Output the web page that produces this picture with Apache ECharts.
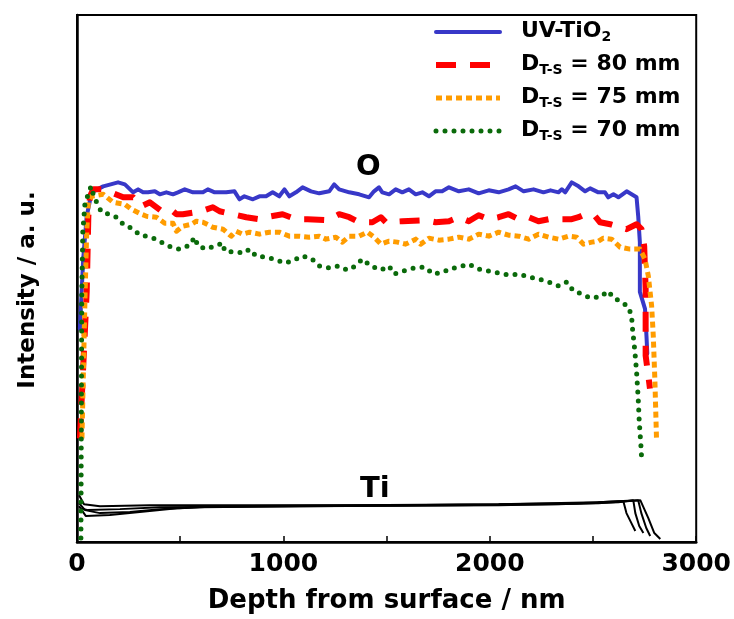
<!DOCTYPE html>
<html>
<head>
<meta charset="utf-8">
<script src="https://cdn.jsdelivr.net/npm/echarts@6/dist/echarts.min.js"></script>
<style>html,body{margin:0;padding:0;background:#fff}#c{width:734px;height:619px}</style>
</head>
<body>
<div id="c"></div>
<script>
// ---- data (depth in nm, intensity in arbitrary units) ----
const xTickLabels = [0, 1000, 2000, 3000];
const seriesNames = ['UV-TiO2', 'DT-S = 80 mm', 'DT-S = 75 mm', 'DT-S = 70 mm'];

const blueDepth = [14,30,47,71,127,199,232,272,296,320,344,377,401,433,465,489,522,562,610,634,667,723,763,787,811,852,884,916,948,980,1005,1029,1061,1093,1134,1174,1222,1246,1270,1319,1367,1415,1439,1463,1479,1512,1544,1576,1608,1641,1673,1705,1737,1769,1802,1850,1898,1946,1995,2043,2091,2125,2164,2212,2260,2294,2333,2349,2365,2397,2430,2462,2486,2526,2558,2574,2599,2623,2663,2711,2719,2727,2727,2752,2759,2763];
const blueInt   = [214,284,327,351,357,361,359,351,354,351,351,352,349,351,349,351,354,351,351,354,351,351,352,344,347,344,347,347,351,347,354,347,351,356,352,350,352,359,354,351,349,346,352,356,351,349,354,351,354,349,351,347,352,352,356,352,354,350,353,351,354,357,352,354,351,353,351,354,351,361,357,352,355,351,351,346,349,346,352,346,327,301,251,234,207,189];

const redDepth = [14,47,55,63,79,127,224,272,312,353,417,465,482,513,602,658,691,755,820,884,916,996,1061,1117,1214,1270,1319,1367,1431,1472,1496,1576,1689,1737,1802,1850,1898,1946,1995,2043,2091,2140,2188,2236,2285,2333,2397,2430,2462,2510,2534,2583,2663,2711,2735,2748,2755,2755,2755,2768,2776];
const redInt   = [104,251,327,347,354,354,346,346,337,341,331,332,329,329,332,336,332,329,326,324,326,329,324,324,323,329,326,321,321,326,321,322,323,321,322,326,322,328,324,326,329,324,326,322,324,324,324,326,329,327,321,319,314,319,314,297,254,227,187,167,154];

const orangeDepth = [24,39,47,55,71,127,175,232,264,312,337,385,425,465,482,513,554,578,610,658,707,747,771,803,836,884,932,980,1029,1077,1125,1174,1206,1254,1286,1319,1367,1407,1439,1472,1512,1552,1592,1641,1665,1705,1753,1802,1850,1898,1946,1995,2043,2091,2140,2188,2236,2285,2333,2381,2421,2454,2494,2526,2550,2590,2631,2679,2727,2752,2768,2784,2792,2800,2808];
const orangeInt   = [104,247,311,341,347,349,341,339,334,329,327,326,320,320,312,317,319,322,321,316,314,307,312,309,311,309,311,311,307,307,306,307,304,306,301,307,307,311,306,299,302,301,299,304,299,305,303,304,306,304,309,307,311,308,307,304,309,306,304,307,306,299,301,302,305,304,296,294,294,284,267,237,207,161,101];

const greenDepth = [19,23,28,39,55,68,79,95,119,159,192,224,272,304,337,385,433,473,497,546,570,586,626,667,707,715,771,811,836,868,908,956,1005,1045,1088,1134,1174,1222,1267,1310,1348,1383,1423,1472,1512,1536,1579,1633,1686,1726,1777,1802,1850,1898,1946,1995,2043,2091,2140,2188,2236,2285,2333,2373,2405,2445,2486,2534,2574,2599,2639,2671,2687,2690,2695,2703,2711,2719,2724,2732,2736];
const greenInt   = [4,247,311,341,349,357,349,341,331,329,326,319,314,308,307,304,298,295,294,298,306,297,294,297,300,292,291,290,294,287,286,284,280,282,287,285,277,275,277,273,277,284,277,273,277,269,272,275,276,269,271,274,276,279,274,272,270,268,269,266,264,261,257,261,252,249,245,246,252,245,241,236,227,217,207,191,171,144,121,97,82];

// Ti depth profiles (one per sample)
const tiADepth = [10,34,111,353,836,1560,2043,2430,2623,2647,2662,2686,2705];
const tiAInt   = [47,38,36,37,37,37,38,39,41,41,29,19,11];
const tiBDepth = [10,39,111,256,401,594,1077,1802,2333,2623,2695,2705,2724,2744];
const tiBInt   = [39,32,29,30,33,35,36,37,38,40,42,29,16,9];
const tiCDepth = [10,43,159,304,497,691,1319,2043,2526,2719,2734,2758,2777];
const tiCInt   = [36,26,27,30,34,36,37,38,40,42,29,14,6];
const tiDDepth = [14,53,208,401,1077,2043,2526,2729,2768,2797,2826];
const tiDInt   = [34,32,33,35,36,37,39,42,24,9,3];

const zip = (a, b) => a.map((v, i) => [v, b[i]]);

const FONT = 'DejaVu Sans';
const chart = echarts.init(document.getElementById('c'), null, {renderer: 'canvas'});

function oLine(name, xs, ys, color, width, type, cap) {
  return {
    name: name, type: 'line', data: zip(xs, ys), symbol: 'none', smooth: false,
    lineStyle: {color: color, width: width, type: type, cap: cap || 'butt', join: 'round'},
    itemStyle: {color: color}, animation: false, z: 3
  };
}
function tiLine(xs, ys) {
  return {
    type: 'line', data: zip(xs, ys), symbol: 'none',
    lineStyle: {color: '#000', width: 2}, itemStyle: {color: '#000'},
    animation: false, z: 2, legendHoverLink: false
  };
}

chart.setOption({
  backgroundColor: '#fff',
  animation: false,
  grid: {left: 77, right: 36, top: 15, bottom: 75, show: true, borderColor: '#000', borderWidth: 2, backgroundColor: 'transparent'},
  xAxis: {
    type: 'value', min: 0, max: 3000, interval: 500,
    axisLine: {lineStyle: {color: '#000', width: 2.5}},
    axisTick: {inside: true, length: 6, lineStyle: {color: '#000', width: 1.5}},
    splitLine: {show: false},
    axisLabel: {
      color: '#000', fontFamily: FONT, fontWeight: 'bold', fontSize: 25, margin: 10,
      formatter: v => (xTickLabels.indexOf(v) >= 0 ? String(v) : '')
    },
    name: 'Depth from surface / nm', nameLocation: 'middle', nameGap: 46,
    nameTextStyle: {color: '#000', fontFamily: FONT, fontWeight: 'bold', fontSize: 26}
  },
  yAxis: {
    type: 'value', min: 0, max: 529,
    axisLine: {show: true, lineStyle: {color: '#000', width: 2.5}},
    axisTick: {show: false}, axisLabel: {show: false}, splitLine: {show: false}
  },
  legend: {
    orient: 'vertical', left: 433, top: 16, padding: 0, itemWidth: 64, itemHeight: 14, itemGap: 5,
    data: seriesNames,
    itemStyle: {opacity: 0},
    lineStyle: {width: 'inherit', type: 'inherit', cap: 'inherit'},
    formatter: function (name) {
      if (name === 'UV-TiO2') return '{m|UV-TiO}{s|2}';
      return '{m|D}{s|T-S}{m|' + name.slice(4) + '}';
    },
    textStyle: {
      color: '#000', fontFamily: FONT, fontWeight: 'bold', fontSize: 22, padding: [0, 0, 0, 16],
      rich: {
        m: {fontFamily: FONT, fontWeight: 'bold', fontSize: 22, lineHeight: 24, verticalAlign: 'top', color: '#000'},
        s: {fontFamily: FONT, fontWeight: 'bold', fontSize: 14, lineHeight: 14, padding: [14, 0, 0, 0], verticalAlign: 'bottom', color: '#000'}
      }
    }
  },
  graphic: [
    {type: 'text', left: 356, top: 153, style: {text: 'O', fontFamily: FONT, fontWeight: 'bold', fontSize: 29, fill: '#000'}},
    {type: 'text', left: 360, top: 475, style: {text: 'Ti', fontFamily: FONT, fontWeight: 'bold', fontSize: 29, fill: '#000'}},
    {type: 'text', x: 28, y: 290, rotation: Math.PI / 2,
     style: {text: 'Intensity / a. u.', fontFamily: FONT, fontWeight: 'bold', fontSize: 23, fill: '#000', align: 'center', verticalAlign: 'middle'}}
  ],
  series: [
    tiLine(tiADepth, tiAInt), tiLine(tiBDepth, tiBInt), tiLine(tiCDepth, tiCInt), tiLine(tiDDepth, tiDInt),
    oLine(seriesNames[0], blueDepth, blueInt, '#3838C8', 4, 'solid', 'round'),
    oLine(seriesNames[1], redDepth, redInt, '#FF0000', 6, [20, 14]),
    oLine(seriesNames[2], orangeDepth, orangeInt, '#FF9C00', 5, [6, 4]),
    oLine(seriesNames[3], greenDepth, greenInt, '#0A6A0A', 5, [0, 9], 'round')
  ]
});
</script>
</body>
</html>
